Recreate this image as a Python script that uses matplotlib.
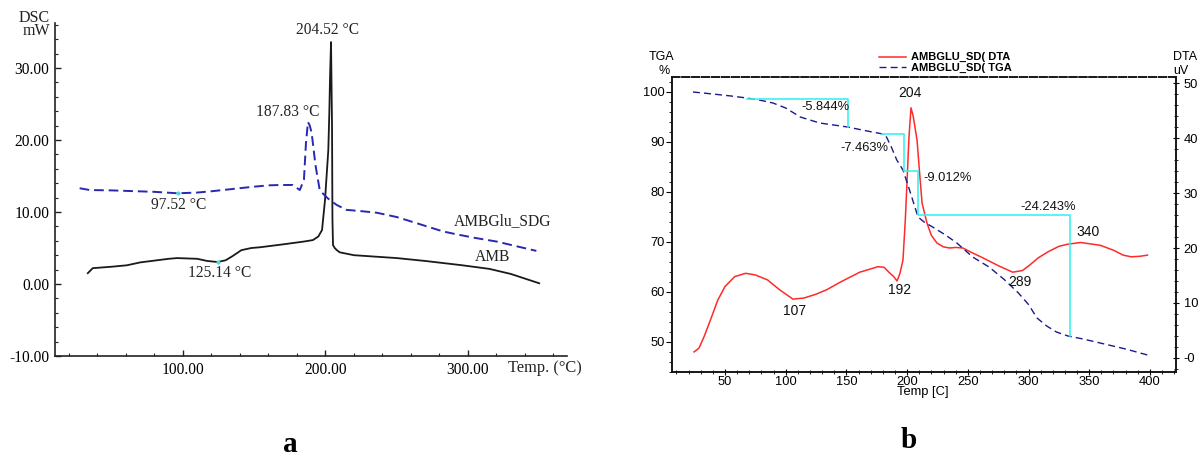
import matplotlib
matplotlib.use("Agg")
import matplotlib.pyplot as plt
from matplotlib.ticker import MultipleLocator

# ---------------- data: panel a (DSC) ----------------
amb_t = [33.2, 36.7, 50, 60.7, 70, 90, 95.8, 110, 117, 124.4, 130, 135, 141, 148, 154,
         170, 185, 191.2, 195, 197.6, 199.7, 202.0, 202.7, 203.2, 203.9, 204.6, 204.9,
         205.3, 206.5, 208, 210, 220, 235, 250, 270, 296, 315, 330, 350]
amb_v = [1.5, 2.2, 2.4, 2.6, 3.0, 3.5, 3.6, 3.5, 3.2, 3.05, 3.3, 3.9, 4.7, 5.0, 5.1,
         5.5, 5.9, 6.1, 6.6, 7.5, 11.7, 18.6, 23.75, 28.6, 33.6, 22, 9,
         5.4, 5.0, 4.7, 4.4, 4.0, 3.8, 3.6, 3.2, 2.6, 2.1, 1.4, 0.1]

sdg_t = [27.5, 34.6, 50, 64.7, 80, 96.3, 110, 121, 135, 149, 160, 168, 177, 182,
         184.9, 186.3, 187.7, 189, 190.3, 193, 196, 201.6, 207.7, 214.7, 226, 236,
         250, 261.5, 282.5, 292, 305, 320, 335, 348]
sdg_v = [13.3, 13.05, 13.0, 12.9, 12.8, 12.6, 12.7, 12.9, 13.2, 13.5, 13.7, 13.75, 13.75, 13.05,
         14.5, 19.5, 22.5, 22.0, 21.0, 16.5, 13.0, 11.9, 11.0, 10.3, 10.1, 9.9,
         9.3, 8.6, 7.3, 6.9, 6.4, 5.9, 5.2, 4.6]

dsc_peaks = [(204.52, "204.52 °C", 201.8, 35.3), (187.83, "187.83 °C", 173.7, 23.9),
             (97.52, "97.52 °C", 97.2, 11.0), (125.14, "125.14 °C", 126.0, 1.5)]
dsc_marks_t = [96.3, 124.4]
dsc_marks_v = [12.6, 3.05]

# ---------------- data: panel b (TGA / DTA) ----------------
tga_t = [23.6, 40, 55, 68, 80, 89.5, 100, 112, 128, 151, 165, 180, 183, 187, 191.5,
         196.6, 202, 209, 214, 221, 231, 241, 254, 267.5, 280, 291.7, 300, 307, 315,
         323, 332.5, 345, 359, 380, 398]
tga_v = [100, 99.6, 99.2, 98.8, 98.3, 97.8, 96.8, 95, 93.8, 93, 92.3, 91.6, 91, 89, 86.4,
         84.4, 80.4, 75, 74, 73, 71.5, 69.8, 67, 65, 62.5, 59.8, 57.5, 54.8, 53.2,
         52, 51.2, 50.6, 49.8, 48.6, 47.4]

dta_t = [24.5, 28.6, 33, 39, 44, 50, 58, 67, 75, 85, 95, 106, 115, 125, 133.7, 145,
         161, 170, 176, 181, 185, 189, 191.7, 194, 196.6, 198.5, 200, 201.5, 203.2, 205,
         208.2, 210, 212.3, 216.4, 220, 224.6, 230, 235, 240, 246, 252, 262.5, 275, 287,
         295, 301, 308, 316, 325, 332.5, 343, 359, 370, 378, 384.6, 392, 398]
dta_v = [1.1, 1.8, 4, 7.5, 10.5, 13, 14.8, 15.4, 15.1, 14.2, 12.4, 10.7, 10.9, 11.6, 12.4, 13.8,
         15.6, 16.2, 16.6, 16.5, 15.6, 14.8, 14, 15.3, 17.8, 25, 32.4, 40, 45.5, 44,
         39.6, 34.5, 28.2, 24.5, 22.3, 20.9, 20.2, 20, 20.1, 20, 19.3, 18.2, 16.8, 15.6,
         15.9, 16.9, 18.2, 19.3, 20.3, 20.7, 21, 20.5, 19.6, 18.7, 18.4, 18.5, 18.7]

step1_t = [68, 151, 151]
step1_v = [98.6, 98.6, 93.0]
step2_t = [179, 197.5, 197.5, 209, 209, 334, 334]
step2_v = [91.6, 91.6, 84.2, 84.2, 75.4, 75.4, 51.2]

loss_labels = [("-5.844%", 132.4, 97.0), ("-7.463%", 164.5, 88.8),
               ("-9.012%", 233.7, 82.8), ("-24.243%", 316.0, 77.0)]
dta_labels = [("204", 202.4, 99.8), ("340", 349.0, 72.0), ("107", 107.7, 56.2),
              ("192", 194.1, 60.4), ("289", 293.0, 62.0)]
b_xticks = [50, 100, 150, 200, 250, 300, 350, 400]
tga_yticks = [50, 60, 70, 80, 90, 100]
dta_yticks = [0, 10, 20, 30, 40, 50]
dta_yticklabels = ["-0", "10", "20", "30", "40", "50"]

W, H = 1201, 457
fig = plt.figure(figsize=(W / 100, H / 100), dpi=100)


def rect(x0, y0, x1, y1):
    return [x0 / W, 1 - y1 / H, (x1 - x0) / W, (y1 - y0) / H]


# ================= panel a =================
serif = "Liberation Serif"
ax = fig.add_axes(rect(55, 23, 567, 356))
ax.plot(amb_t, amb_v, color="#1a1a1a", lw=1.3)
ax.plot(sdg_t, sdg_v, color="#2828b0", lw=1.4, dashes=(5, 2.5))
ax.scatter(dsc_marks_t, dsc_marks_v, s=4, color="#40e0e0", zorder=3)
ax.set_xlim(10.2, 369.5)
ax.set_ylim(-10, 36.25)
for s in ["top", "right"]:
    ax.spines[s].set_visible(False)
for s in ["left", "bottom"]:
    ax.spines[s].set_linewidth(1.2)
    ax.spines[s].set_color("#222222")
ax.xaxis.set_major_locator(MultipleLocator(100))
ax.xaxis.set_minor_locator(MultipleLocator(20))
ax.yaxis.set_major_locator(MultipleLocator(10))
ax.yaxis.set_minor_locator(MultipleLocator(2))
ax.tick_params(which="both", direction="in", color="#222222")
ax.tick_params(which="major", length=4, width=1, labelsize=11.2, pad=4)
ax.tick_params(which="minor", length=2, width=0.8)
ax.xaxis.set_major_formatter(lambda v, p: "%.2f" % v if v > 50 else "")
ax.yaxis.set_major_formatter(lambda v, p: "%.2f" % v)
for lab in ax.get_xticklabels() + ax.get_yticklabels():
    lab.set_family(serif)
for _, txt, tx, ty in dsc_peaks:
    ax.text(tx, ty, txt, ha="center", va="center", fontsize=11.2, family=serif, color="#222222")
ax.text(324.6, 8.75, "AMBGlu_SDG", ha="center", va="center", fontsize=11.2, family=serif, color="#222222")
ax.text(316.9, 3.75, "AMB", ha="center", va="center", fontsize=11.2, family=serif, color="#222222")
fig.text(50 / W, 1 - 24.5 / H, "DSC\nmW", ha="right", va="center", multialignment="right",
         linespacing=0.82, fontsize=11.5, family=serif, color="#222222")
fig.text(508 / W, 1 - 368 / H, "Temp. (°C)", ha="left", va="center", fontsize=11.8, family=serif, color="#222222")
fig.text(290 / W, 1 - 445 / H, "a", ha="center", va="center", fontsize=21, family=serif, weight="bold")

# ================= panel b =================
sans = "Liberation Sans"
bx = fig.add_axes(rect(672, 77, 1176, 372))
bx2 = bx.twinx()
bx.set_zorder(bx2.get_zorder() + 1)
bx.patch.set_visible(False)

l_tga, = bx.plot(tga_t, tga_v, color="#1a1a8c", lw=1.0, dashes=(5, 3),
                 label="AMBGLU_SD( TGA")
bx.plot(step1_t, step1_v, color="#40f0f0", lw=1.2)
bx.plot(step2_t, step2_v, color="#40f0f0", lw=1.2)
l_dta, = bx2.plot(dta_t, dta_v, color="#ff2a2a", lw=1.1, label="AMBGLU_SD( DTA")

bx.set_xlim(6.34, 421.5)
bx.set_ylim(44.0, 103.0)
bx2.set_ylim(-2.55, 51.1)

bx.set_xticks(b_xticks)
bx.xaxis.set_minor_locator(MultipleLocator(10))
bx.set_yticks(tga_yticks)
bx.yaxis.set_minor_locator(MultipleLocator(2))
bx2.set_yticks(dta_yticks, labels=dta_yticklabels)
bx2.yaxis.set_minor_locator(MultipleLocator(2))

for a in (bx, bx2):
    for s in a.spines.values():
        s.set_linewidth(1.1)
        s.set_color("#111111")
    a.spines["top"].set_linestyle((0, (5, 1.5)))
bx.tick_params(axis="x", which="both", direction="inout", top=False)
bx.tick_params(axis="x", which="major", length=5, labelsize=9.3, pad=0.5)
bx.tick_params(axis="x", which="minor", length=3)
bx.tick_params(axis="y", which="both", direction="out")
bx.tick_params(axis="y", which="major", length=4, labelsize=9.3, pad=1)
bx.tick_params(axis="y", which="minor", length=2.5)
bx2.tick_params(axis="y", which="both", direction="inout")
bx2.tick_params(axis="y", which="major", length=5, labelsize=9.3, pad=3)
bx2.tick_params(axis="y", which="minor", length=3)
for lab in bx.get_xticklabels() + bx.get_yticklabels() + bx2.get_yticklabels():
    lab.set_family(sans)

for txt, tx, ty in loss_labels:
    bx.text(tx, ty, txt, ha="center", va="center", fontsize=9.3, family=sans, color="#111111")
for txt, tx, ty in dta_labels:
    bx.text(tx, ty, txt, ha="center", va="center", fontsize=10, family=sans, color="#111111")

leg = bx.legend(handles=[l_dta, l_tga], loc="center left",
                bbox_to_anchor=(879 / W, 1 - 62.5 / H), bbox_transform=fig.transFigure,
                frameon=False, handlelength=2.4, handletextpad=0.5, labelspacing=0.0,
                borderpad=0, borderaxespad=0,
                prop={"family": sans, "weight": "bold", "size": 8})

fig.text(662 / W, 1 - 57 / H, "TGA", ha="center", va="center", fontsize=9, family=sans)
fig.text(664 / W, 1 - 71 / H, "%", ha="center", va="center", fontsize=9, family=sans)
fig.text(1185 / W, 1 - 57 / H, "DTA", ha="center", va="center", fontsize=9, family=sans)
fig.text(1181 / W, 1 - 71 / H, "uV", ha="center", va="center", fontsize=9, family=sans)
fig.text(923 / W, 1 - 392 / H, "Temp [C]", ha="center", va="center", fontsize=9.3, family=sans)
fig.text(909 / W, 1 - 440 / H, "b", ha="center", va="center", fontsize=21, family=serif, weight="bold")

fig.savefig("out.png", dpi=100)
